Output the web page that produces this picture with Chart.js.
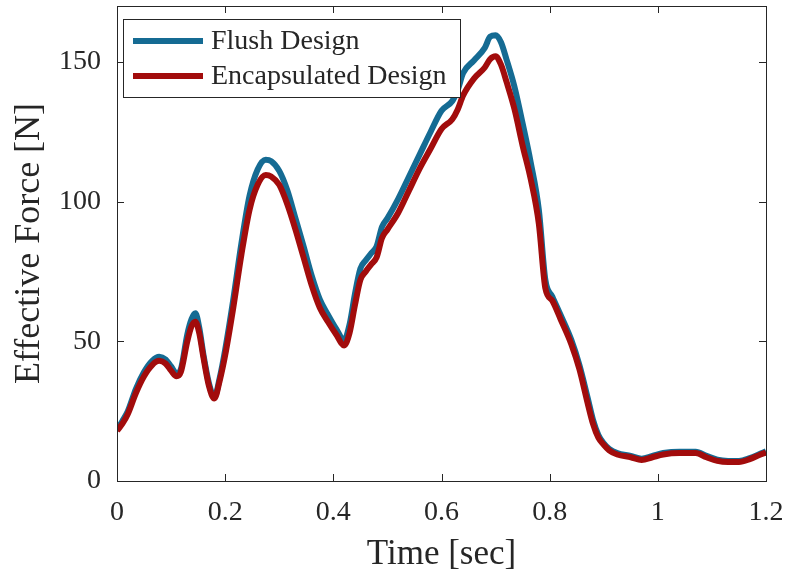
<!DOCTYPE html>
<html>
<head>
<meta charset="utf-8">
<script src="https://cdn.jsdelivr.net/npm/chart.js@4/dist/chart.umd.min.js"></script>
<style>
  html, body { margin: 0; padding: 0; background: #fff; }
  #wrap { width: 789px; height: 581px; }
</style>
</head>
<body>
<div id="wrap"><canvas id="chart"></canvas></div>
<script>
const times = [0, 0.01, 0.02, 0.035, 0.05, 0.065, 0.078, 0.09, 0.1, 0.11,
  0.118, 0.13, 0.138, 0.145, 0.152, 0.16, 0.17, 0.18, 0.19, 0.2,
  0.215, 0.23, 0.245, 0.26, 0.275, 0.285, 0.3, 0.315, 0.33, 0.345,
  0.36, 0.375, 0.39, 0.405, 0.42, 0.43, 0.44, 0.45, 0.46, 0.47,
  0.48, 0.49, 0.5, 0.52, 0.54, 0.56, 0.58, 0.6, 0.62, 0.63,
  0.64, 0.66, 0.68, 0.69, 0.7, 0.71, 0.72, 0.735, 0.75, 0.765,
  0.78, 0.792, 0.805, 0.82, 0.84, 0.855, 0.87, 0.88, 0.89, 0.9,
  0.91, 0.925, 0.95, 0.97, 0.99, 1.01, 1.04, 1.07, 1.09, 1.11,
  1.13, 1.15, 1.17, 1.19, 1.2]

const flush = [18.5, 21.5, 25, 33, 39, 43, 44.5, 43.5, 41, 38.5,
  40, 52.5, 58, 60, 55, 45, 35, 30, 37, 47,
  65, 85, 102, 111.5, 115, 114.5, 111, 104, 94, 84,
  73.5, 65, 59.5, 54.5, 50.5, 56, 67, 76, 79, 81.5,
  84, 91, 94, 101, 109, 117, 125, 132.5, 136, 140,
  146, 150.5, 155, 159, 159.5, 157, 151, 141, 128, 114,
  97, 72, 66, 59.5, 50.5, 41.5, 30, 22, 16.5, 13.5,
  11.5, 10, 9, 8, 9, 10, 10.5, 10.5, 9, 7.6,
  7.2, 7.2, 8.2, 9.8, 10.6]

const encapsulated = [18, 20.5, 24, 31.5, 37.5, 41.5, 43, 42, 39.5, 37.5,
  39, 50, 55.5, 57, 53, 44, 34, 29.5, 36, 45,
  62, 81, 97, 106, 109.5, 109, 106, 99, 90, 80,
  70, 62, 57, 52.5, 48.5, 53, 63, 72, 75, 77.5,
  80, 87, 90, 96, 104, 112, 119, 126, 129.5, 133,
  138, 144, 148, 151, 152, 149, 143, 133, 120, 108,
  92, 69, 64.5, 58, 49, 40, 28, 20.5, 15.5, 13,
  11, 9.5, 8.5, 7.5, 8.5, 9.5, 10, 10, 8.5, 7.2,
  6.8, 6.8, 7.8, 9.5, 10.2]

const seriesNames = ['Flush Design', 'Encapsulated Design']
const xTicks = [0, 0.2, 0.4, 0.6, 0.8, 1, 1.2]
const yTicks = [0, 50, 100, 150]

const blue = '#156b93'
const red = '#a20c0c'
const ink = '#262626'
const serif = "'Liberation Serif', 'Times New Roman', serif"

// matlab style box with inward ticks on all four sides
const boxPlugin = {
  id: 'box',
  afterDraw(chart) {
    const ctx = chart.ctx
    const a = chart.chartArea
    const xs = chart.scales.x
    const ys = chart.scales.y
    const len = 7
    ctx.save()
    ctx.strokeStyle = ink
    ctx.lineWidth = 1
    ctx.strokeRect(a.left + 0.5, a.top + 0.5, a.right - a.left, a.bottom - a.top)
    ctx.beginPath()
    xTicks.forEach(v => {
      const px = Math.round(xs.getPixelForValue(v)) + 0.5
      ctx.moveTo(px, a.bottom); ctx.lineTo(px, a.bottom - len)
      ctx.moveTo(px, a.top); ctx.lineTo(px, a.top + len)
    })
    yTicks.forEach(v => {
      const py = Math.round(ys.getPixelForValue(v)) + 0.5
      ctx.moveTo(a.left, py); ctx.lineTo(a.left + len, py)
      ctx.moveTo(a.right, py); ctx.lineTo(a.right - len, py)
    })
    ctx.stroke()

    // legend
    const lx = a.left + 6, ly = 19, lw = 337, lh = 78
    ctx.fillStyle = '#fff'
    ctx.fillRect(lx, ly, lw, lh)
    ctx.strokeRect(lx + 0.5, ly + 0.5, lw, lh)
    const colors = [blue, red]
    const rows = [41, 76]
    ctx.font = '28px ' + serif
    ctx.textBaseline = 'middle'
    seriesNames.forEach((name, i) => {
      ctx.strokeStyle = colors[i]
      ctx.lineWidth = 6
      ctx.beginPath()
      ctx.moveTo(lx + 10, rows[i]); ctx.lineTo(lx + 80, rows[i])
      ctx.stroke()
      ctx.fillStyle = ink
      ctx.fillText(name, lx + 88, rows[i] + 1)
    })
    ctx.restore()
  }
}

new Chart(document.getElementById('chart'), {
  type: 'line',
  data: {
    datasets: [{
      label: seriesNames[0],
      data: times.map((t, i) => ({ x: t, y: flush[i] })),
      borderColor: blue,
      borderWidth: 6,
      pointRadius: 0,
      cubicInterpolationMode: 'monotone',
      fill: false,
      order: 2
    }, {
      label: seriesNames[1],
      data: times.map((t, i) => ({ x: t, y: encapsulated[i] })),
      borderColor: red,
      borderWidth: 6,
      pointRadius: 0,
      cubicInterpolationMode: 'monotone',
      fill: false,
      order: 1
    }]
  },
  options: {
    responsive: true,
    maintainAspectRatio: false,
    animation: false,
    layout: { padding: { top: 6, right: 23, left: 0, bottom: 0 } },
    plugins: { legend: { display: false }, tooltip: { enabled: false } },
    scales: {
      x: {
        type: 'linear',
        min: 0,
        max: 1.2,
        afterBuildTicks: s => { s.ticks = xTicks.map(v => ({ value: v })) },
        afterFit: s => { s.height = 100; s.paddingLeft = 0; s.paddingRight = 0 },
        grid: { display: false },
        border: { display: false },
        ticks: {
          color: ink,
          font: { family: serif, size: 28 },
          padding: 7,
          maxRotation: 0,
          callback: v => String(Number(v.toFixed(1)))
        },
        title: {
          display: true,
          text: 'Time [sec]',
          color: ink,
          font: { family: serif, size: 35 },
          padding: { top: 0, bottom: 5 }
        }
      },
      y: {
        min: 0,
        max: 170,
        afterBuildTicks: s => { s.ticks = yTicks.map(v => ({ value: v })) },
        afterFit: s => { s.width = 117; s.paddingTop = 0; s.paddingBottom = 0 },
        grid: { display: false },
        border: { display: false },
        ticks: {
          color: ink,
          font: { family: serif, size: 28 },
          padding: 8
        },
        title: {
          display: true,
          text: 'Effective Force [N]',
          color: ink,
          font: { family: serif, size: 36 },
          padding: { top: 8, bottom: 0 }
        }
      }
    }
  },
  plugins: [boxPlugin]
})
</script>
</body>
</html>
